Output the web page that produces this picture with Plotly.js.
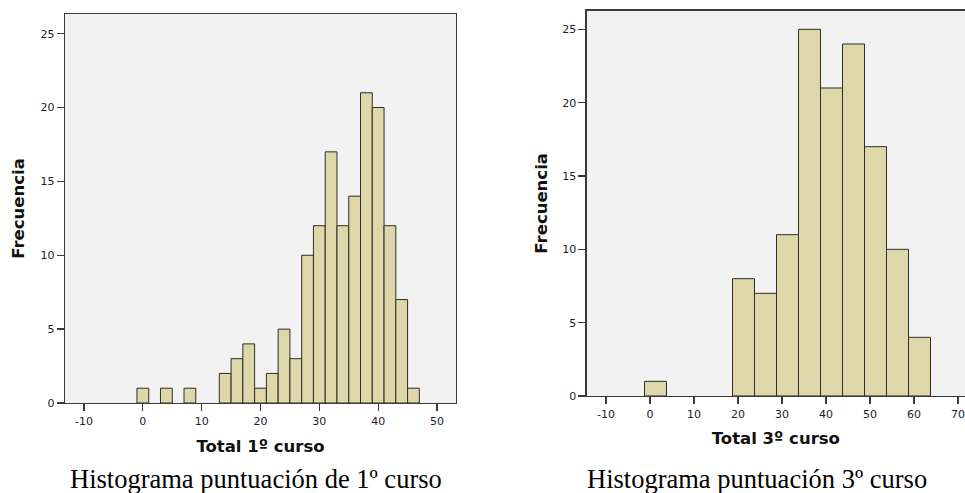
<!DOCTYPE html>
<html>
<head>
<meta charset="utf-8">
<script src="https://cdn.plot.ly/plotly-3.0.1.min.js"></script>
<style>html,body{margin:0;padding:0;background:#fff;}#chart{width:965px;height:493px;}</style>
</head>
<body>
<div id="chart"></div>
<script>
// Histogram 1º curso: bin centres (width 2) and frequencies
const binCenters1 = [0, 4, 8, 14, 16, 18, 20, 22, 24, 26, 28, 30, 32, 34, 36, 38, 40, 42, 44, 46];
const counts1 = [1, 1, 1, 2, 3, 4, 1, 2, 5, 3, 10, 12, 17, 12, 14, 21, 20, 12, 7, 1];
const binWidth1 = 2;

// Histogram 3º curso: bin centres (width 5) and frequencies
const binCenters3 = [1.25, 21.25, 26.25, 31.25, 36.25, 41.25, 46.25, 51.25, 56.25, 61.25];
const counts3 = [1, 8, 7, 11, 25, 21, 24, 17, 10, 4];
const binWidth3 = 5;

// Tick labels
const xTicks1 = [-10, 0, 10, 20, 30, 40, 50];
const xTickText1 = ["-10", "0", "10", "20", "30", "40", "50"];
const xTicks3 = [-10, 0, 10, 20, 30, 40, 50, 60, 70];
const xTickText3 = ["-10", "0", "10", "20", "30", "40", "50", "60", "70"];
const yTicks = [0, 5, 10, 15, 20, 25];

const xTitle1 = "Total 1º curso";
const xTitle3 = "Total 3º curso";
const yTitle = "Frecuencia";
const caption1 = "Histograma puntuación de 1º curso";
const caption3 = "Histograma puntuación 3º curso";

const W = 965, H = 493;
const barFill = "#ddd7a9";
const barLine = "#2e2e26";
const frame = "#3a3a3a";
const tickFont = {family: "DejaVu Sans", size: 11, color: "#1c1c28"};
const titleFont = {family: "DejaVu Sans", size: 16.5, color: "#111", weight: "bold"};

const traces = [
  {type: "bar", x: binCenters1, y: counts1, width: binWidth1, xaxis: "x", yaxis: "y",
   marker: {color: barFill, line: {color: barLine, width: 1}}, hoverinfo: "x+y", showlegend: false},
  {type: "bar", x: binCenters3, y: counts3, width: binWidth3, xaxis: "x2", yaxis: "y2",
   marker: {color: barFill, line: {color: barLine, width: 1}}, hoverinfo: "x+y", showlegend: false}
];

const axBase = {
  showgrid: false, zeroline: false, showline: true, linecolor: frame, linewidth: 1.3,
  ticks: "outside", ticklen: 7, tickwidth: 1.3, tickcolor: frame, tickfont: tickFont,
  fixedrange: true
};

const layout = {
  width: W, height: H,
  margin: {l: 0, r: 0, t: 0, b: 0},
  paper_bgcolor: "#ffffff",
  plot_bgcolor: "#f2f2f2",
  bargap: 0,
  xaxis: Object.assign({}, axBase, {
    domain: [65 / W, 456 / W], range: [-13.23, 53.23], mirror: true,
    tickvals: xTicks1, ticktext: xTickText1, anchor: "y",
    title: {text: xTitle1, font: titleFont, standoff: 14}
  }),
  yaxis: Object.assign({}, axBase, {
    domain: [1 - 403 / H, 1 - 14 / H], range: [0, 26.33], mirror: true,
    tickvals: yTicks, anchor: "x",
    title: {text: yTitle, font: titleFont, standoff: 11}
  }),
  xaxis2: Object.assign({}, axBase, {
    domain: [586.7 / W, 1], range: [-14.39, 71.59], mirror: true,
    tickvals: xTicks3, ticktext: xTickText3, anchor: "y2",
    title: {text: xTitle3, font: titleFont, standoff: 13}
  }),
  yaxis2: Object.assign({}, axBase, {
    domain: [1 - 396 / H, 1 - 10.7 / H], range: [0, 26.27], mirror: false,
    tickvals: yTicks, anchor: "x2",
    title: {text: yTitle, font: titleFont, standoff: 10}
  }),
  annotations: [
    {text: caption1, xref: "paper", yref: "paper", x: 256 / W, y: 1 - 479 / H,
     xanchor: "center", yanchor: "middle", showarrow: false,
     font: {family: "Liberation Serif", size: 26.5, color: "#000"}},
    {text: caption3, xref: "paper", yref: "paper", x: 757 / W, y: 1 - 479 / H,
     xanchor: "center", yanchor: "middle", showarrow: false,
     font: {family: "Liberation Serif", size: 26.5, color: "#000"}}
  ]
};

Plotly.newPlot("chart", traces, layout, {displayModeBar: false, staticPlot: true});
</script>
</body>
</html>
